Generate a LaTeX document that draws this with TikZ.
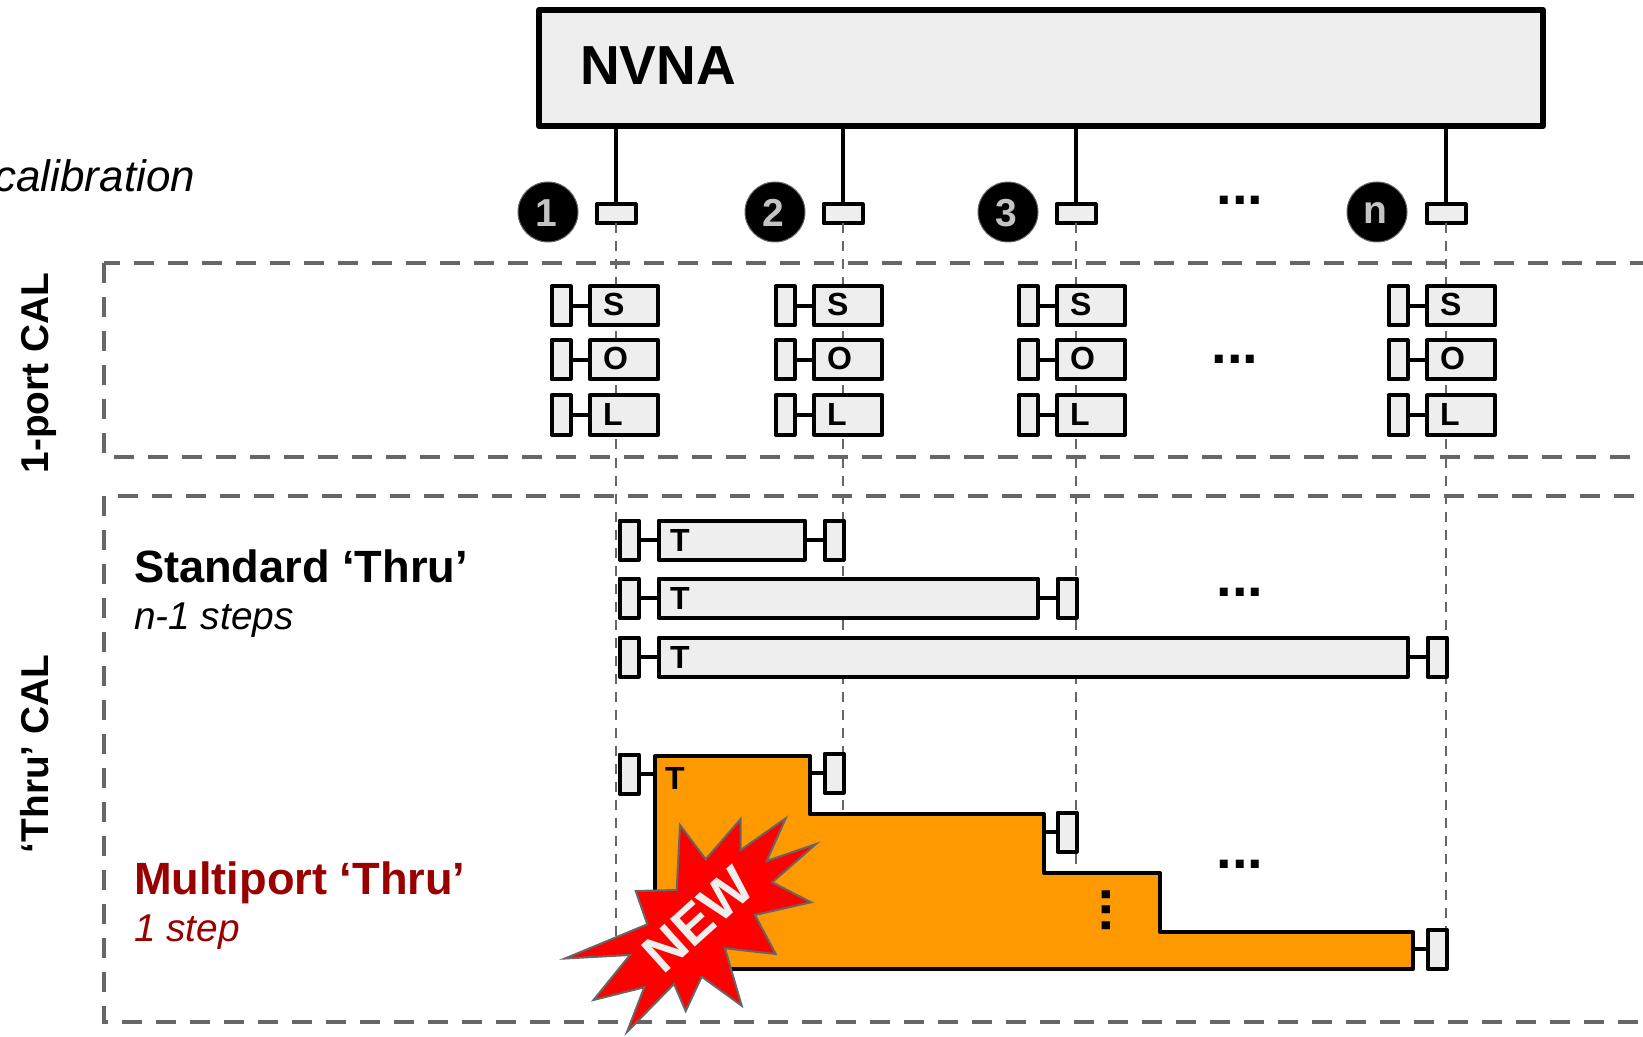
\documentclass[tikz,border=0pt]{standalone}
\usepackage{fontspec}
\setmainfont{Liberation Sans}
\usepackage{xcolor}
\usetikzlibrary{positioning}
\definecolor{calgray}{HTML}{EEEEEE}
\definecolor{dashgray}{HTML}{666666}
\definecolor{digitgray}{HTML}{C4C4C4}
\definecolor{thruorange}{HTML}{FF9900}
\definecolor{newred}{HTML}{990000}

\tikzset{
  every node/.style={inner sep=0pt, outer sep=0pt},
  calbox/.style={draw, fill=calgray, line width=2pt, line join=round, minimum width=34pt, minimum height=19.5pt},
  endbox/.style={calbox, minimum width=9.5pt},
  portbox/.style={calbox, minimum width=19.5pt, minimum height=9.5pt},
  stub/.style={line width=1.8pt},
  groupline/.style={dashgray, line width=2pt, dash pattern=on 10pt off 7pt},
  guideline/.style={dashgray, line width=0.7pt, dash pattern=on 5pt off 4pt},
  portnum/.style={circle, fill=black, draw=dashgray, line width=0.5pt, minimum size=30pt},
  portdigit/.style={text=digitgray, font=\fontsize{19.5}{20}\selectfont\bfseries},
  letter/.style={anchor=base west, font=\fontsize{16}{16}\selectfont\bfseries},
  moredots/.style={font=\fontsize{28}{28}\selectfont\bfseries},
  sidetext/.style={anchor=base, rotate=90, font=\fontsize{19.4}{19}\selectfont\bfseries},
  headtext/.style={anchor=base west, font=\fontsize{22.6}{24}\selectfont\bfseries},
  subtext/.style={anchor=base west, font=\fontsize{19.4}{20}\selectfont\itshape},
}

\begin{document}
\begin{tikzpicture}[x=0.5pt, y=-0.5pt]
  \useasboundingbox (0,0) rectangle (1643,1037);

  % instrument
  \node[draw, fill=calgray, line width=3pt, line join=round, minimum width=502pt, minimum height=58pt] (nvna) at (1041,68) {};
  \node[anchor=base west, font=\fontsize{27.5}{27}\selectfont\bfseries] (nvnatext) at (580,85) {NVNA};
  \node[anchor=base east, font=\fontsize{22}{22}\selectfont\itshape] (caltext) at (195,192) {calibration};

  % ports
  \foreach \portname/\x/\xnum/\yend/\txt in {a/616/548/960/1, b/843/775/814/2, c/1076/1008/874/3, n/1446/1377/950/n} {
    \coordinate (top\portname) at (\x,124);
    \coordinate (end\portname) at (\x,\yend);
    \node[portbox] (port\portname) at (\x,214) {};
    \node[portnum] (num\portname) at (\xnum,212) {};
    \node[portdigit] (digit\portname) at (\xnum-2,213) {\txt};
    \draw[line width=2pt] (top\portname) -- (port\portname.north);
    \draw[guideline] (port\portname.south) -- (end\portname);
  }
  \node[moredots] (dotstop) at (1240,200) {...};

  % groups
  \draw[groupline] (104,263) rectangle (1720,457);
  \draw[groupline] (104,496) rectangle (1720,1022);
  \node[sidetext] (oneport) at (48,373) {1-port CAL};
  \node[sidetext] (thrucal) at (48,754) {‘Thru’ CAL};

  % S, O, L
  \foreach \rowname/\y/\txt in {s/306/S, o/360/O, l/415/L} {
    \foreach \portname/\dx in {a/0, b/224, c/467, n/837} {
      \node[endbox] (end\rowname\portname) at (561+\dx,\y) {};
      \node[calbox] (cal\rowname\portname) at (624+\dx,\y) {};
      \node[letter] (let\rowname\portname) at (603+\dx,\y+10) {\txt};
      \draw[stub] (end\rowname\portname) -- (cal\rowname\portname);
    }
  }
  \node[moredots] (dotscal) at (1235,359) {...};

  % standard thru
  \node[headtext] (stdtext) at (134,582) {Standard ‘Thru’};
  \node[subtext] (stdsteps) at (134,629) {n-1 steps};
  \foreach \rowname/\y/\xend/\xsmall in {a/540/805/834, b/598/1038/1067, c/657/1408/1437} {
    \node[endbox] (left\rowname) at (629,\y) {};
    \node[endbox] (right\rowname) at (\xsmall,\y) {};
    \node[calbox, minimum width={(\xend-659)*0.5pt}] (thru\rowname) at ({(658+\xend)/2},\y) {};
    \node[letter] (lett\rowname) at (670,\y+11) {T};
    \draw[stub] (left\rowname) -- (thru\rowname);
    \draw[stub] (thru\rowname) -- (right\rowname);
  }
  \node[moredots] (dotsstd) at (1240,592) {...};

  % multiport thru
  \node[headtext, text=newred] (multitext) at (134,894) {Multiport ‘Thru’};
  \node[subtext, text=newred] (multistep) at (134,941) {1 step};
  \draw[fill=thruorange, line width=2pt, line join=round] (655,756) -- (810,756) -- (810,814) -- (1044,814) -- (1044,873) -- (1160,873) -- (1160,932) -- (1413,932) -- (1413,969) -- (655,969) -- cycle;
  \coordinate (mpa) at (655,774);
  \coordinate (mpb) at (810,773);
  \coordinate (mpc) at (1044,832);
  \coordinate (mpd) at (1413,949);
  \node[endbox] (mpleft) at (629,774) {};
  \node[endbox] (mpright1) at (834,773) {};
  \node[endbox] (mpright2) at (1067,832) {};
  \node[endbox] (mpright3) at (1437,949) {};
  \draw[stub] (mpleft) -- (mpa);
  \draw[stub] (mpb) -- (mpright1);
  \draw[stub] (mpc) -- (mpright2);
  \draw[stub] (mpd) -- (mpright3);
  \node[letter] (mpt) at (665,789) {T};
  \node[moredots] (dotsmp) at (1240,864) {...};
  \node[moredots, rotate=90] (dotsvert) at (1106,910) {...};

  % star
  \draw[fill=red, draw=dashgray, line width=1pt, line join=miter]
    (565,958.5) -- (647.3,924.3) -- (635.7,891) -- (676.7,890) -- (680,825) -- (705.7,859.3)
    -- (740.7,819) -- (740.7,850) -- (785.7,818.3) -- (766.7,861) -- (816,844) -- (772.3,882.3)
    -- (811,902.3) -- (755,915) -- (775.7,954) -- (725,948.3) -- (741.7,1005.7) -- (701.7,976.7)
    -- (685.7,1011) -- (674,984) -- (627,1032) -- (644.3,987.3) -- (593.5,1000) -- (630,955) -- cycle;
  \node[rotate=42, text=calgray, font=\fontsize{27}{27}\selectfont\bfseries] (newtext) at (698,920) {NEW};
\end{tikzpicture}
\end{document}
